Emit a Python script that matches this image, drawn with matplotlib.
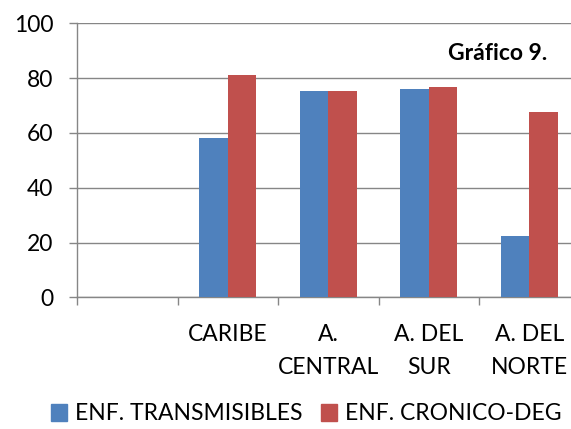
import matplotlib
matplotlib.use("Agg")
import matplotlib.pyplot as plt
import numpy as np
from matplotlib.patches import Patch

categories = ["", "CARIBE", "A.\nCENTRAL", "A. DEL\nSUR", "A. DEL\nNORTE"]
transmisibles = [np.nan, 58.3, 75.3, 76.2, 22.2]
cronico_deg = [np.nan, 81.1, 75.3, 76.8, 67.6]
series_names = ["ENF. TRANSMISIBLES", "ENF. CRONICO-DEG"]
yticks = [0, 20, 40, 60, 80, 100]
title_text = "Gráfico 9."

BLUE = "#4F81BD"
RED = "#C0504D"
GRAY = "#868686"
FONT = "Lato"
FS = 16.5

W, H = 571, 429
fig = plt.figure(figsize=(W / 100, H / 100), dpi=100)
ax = fig.add_axes([77 / W, 131.7 / H, 502.5 / W, 274 / H])

x = np.arange(len(categories))
bw = 1 / 3.5
ax.bar(x - bw / 2, transmisibles, bw, color=BLUE, label=series_names[0], zorder=3)
ax.bar(x + bw / 2, cronico_deg, bw, color=RED, label=series_names[1], zorder=3)

ax.set_xlim(-0.5, len(categories) - 0.5)
ax.set_ylim(0, 100)
ax.set_yticks(yticks)
ax.set_yticklabels([str(v) for v in yticks], fontfamily=FONT, fontsize=FS)
ax.yaxis.grid(True, color=GRAY, linewidth=1.0, zorder=0)
ax.set_axisbelow(True)

ax.set_xticks(x)
ax.set_xticklabels(categories, fontfamily=FONT, fontsize=FS, linespacing=1.7)
ax.set_xticks(np.arange(len(categories) + 1) - 0.5, minor=True)
ax.tick_params(axis="x", which="major", length=0, pad=19.5)
ax.tick_params(axis="x", which="minor", length=6, width=1.0, color=GRAY, direction="out")
ax.tick_params(axis="y", length=6, width=1.0, color=GRAY, pad=11)

for s in ["top", "right"]:
    ax.spines[s].set_visible(False)
for s in ["left", "bottom"]:
    ax.spines[s].set_color(GRAY)
    ax.spines[s].set_linewidth(1.0)

fig.text(547 / W, 1 - 54 / H, title_text, ha="right", va="center",
         fontfamily=FONT, fontsize=FS, fontweight="bold")

handles = [Patch(color=BLUE), Patch(color=RED)]
fig.legend(handles, series_names, loc="center", bbox_to_anchor=(306 / W, 1 - 414 / H),
           ncol=2, frameon=False, prop={"family": FONT, "size": FS},
           handlelength=0.7, handleheight=0.7, handletextpad=0.35, columnspacing=0.8,
           borderaxespad=0, borderpad=0)

fig.savefig("out.png", dpi=100)
